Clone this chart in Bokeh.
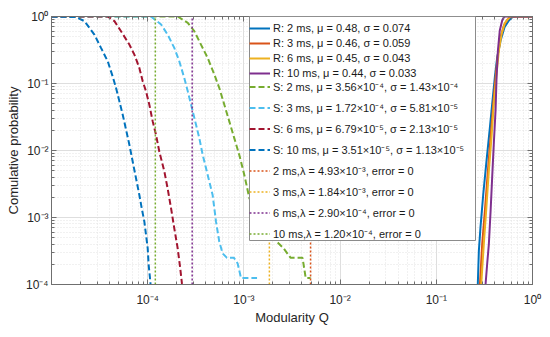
from bokeh.plotting import figure
from bokeh.models import (Range1d, FixedTicker, LogAxis, Legend, LegendItem, BoxAnnotation)
from bokeh.embed import file_html
from bokeh.resources import INLINE

# ---------------- data ----------------
# R: real networks, cumulative distribution of modularity
R2_q = [0.270, 0.277, 0.288, 0.308, 0.333, 0.361, 0.384, 0.406, 0.430, 0.466, 0.512, 0.568, 0.615, 0.665, 1.0]
R2_p = [1e-4, 3.2e-4, 7.2e-4, 2.26e-3, 7.1e-3, 0.0223, 0.0557, 0.124, 0.247, 0.438, 0.693, 0.871, 0.977, 1.0, 1.0]
R3_q = [0.284, 0.300, 0.320, 0.344, 0.367, 0.391, 0.413, 0.437, 0.466, 0.504, 0.546, 0.590, 1.0]
R3_p = [1e-4, 4.05e-4, 1.27e-3, 5.03e-3, 0.0158, 0.0498, 0.124, 0.277, 0.491, 0.734, 0.892, 1.0, 1.0]
R6_q = [0.293, 0.312, 0.330, 0.352, 0.375, 0.396, 0.420, 0.447, 0.477, 0.515, 0.568, 0.600, 1.0]
R6_p = [1e-4, 4.05e-4, 1.27e-3, 5.03e-3, 0.0158, 0.0498, 0.124, 0.311, 0.551, 0.794, 0.955, 1.0, 1.0]
R10_q = [0.325, 0.338, 0.352, 0.367, 0.381, 0.396, 0.413, 0.423, 0.437, 0.457, 0.484, 0.504, 0.520, 1.0]
R10_p = [1e-4, 2.04e-4, 4.05e-4, 1.27e-3, 4.0e-3, 0.0126, 0.0395, 0.124, 0.311, 0.618, 0.871, 0.977, 1.0, 1.0]

# S: surrogate networks, complementary cumulative distribution
S2_q = [1e-5, 2.05e-4, 2.61e-4, 3.05e-4, 3.58e-4, 4.20e-4, 4.93e-4, 5.55e-4, 6.26e-4, 7.05e-4, 7.94e-4,
        8.95e-4, 1.01e-3, 1.14e-3, 1.5e-3, 2.14e-3, 2.30e-3, 2.59e-3, 3.06e-3, 4.07e-3, 4.39e-3, 4.94e-3]
S2_p = [1, 1, 0.804, 0.603, 0.381, 0.241, 0.136, 0.0857, 0.0482, 0.0272, 0.0153,
        8.61e-3, 4.32e-3, 1.94e-3, 9e-4, 4.54e-4, 4.09e-4, 3.45e-4, 2.5e-4, 2.5e-4, 1.25e-4, 1.25e-4]
S3_q = [1e-5, 1.08e-4, 1.38e-4, 1.61e-4, 1.89e-4, 2.13e-4, 2.40e-4, 2.61e-4, 2.94e-4, 3.18e-4, 3.44e-4,
        3.73e-4, 4.04e-4, 4.37e-4, 4.73e-4, 5.13e-4, 5.55e-4, 6.01e-4, 6.67e-4, 7.88e-4, 8.61e-4, 9.33e-4, 1.37e-3]
S3_p = [1, 1, 0.759, 0.538, 0.340, 0.215, 0.121, 0.0763, 0.0384, 0.0242, 0.0153,
        8.61e-3, 5.44e-3, 3.44e-3, 2.17e-3, 8.67e-4, 4.35e-4, 2.91e-4, 2.5e-4, 2.5e-4, 2.06e-4, 1.25e-4, 1.25e-4]
S6_q = [1e-5, 3.84e-5, 4.51e-5, 5.28e-5, 6.45e-5, 7.27e-5, 8.19e-5, 8.87e-5, 9.61e-5, 1.04e-4, 1.127e-4,
        1.22e-4, 1.32e-4, 1.49e-4, 1.61e-4, 1.75e-4, 1.89e-4, 2.05e-4, 2.18e-4, 2.27e-4, 2.28e-4]
S6_p = [1, 1, 0.852, 0.603, 0.381, 0.270, 0.171, 0.108, 0.0763, 0.0482, 0.0272,
        0.0172, 9.66e-3, 4.85e-3, 2.73e-3, 1.37e-3, 6.89e-4, 3.46e-4, 1.73e-4, 1.03e-4, 1e-4]
S10_q = [1e-5, 1.8e-5, 2.2e-5, 2.79e-5, 3.27e-5, 3.84e-5, 4.32e-5, 4.69e-5, 5.08e-5, 5.50e-5, 5.96e-5,
         6.45e-5, 6.98e-5, 7.56e-5, 8.19e-5, 8.67e-5, 9.23e-5, 9.61e-5, 1.0e-4, 1.024e-4, 1.066e-4, 1.07e-4]
S10_p = [1, 0.98, 0.852, 0.538, 0.340, 0.215, 0.128, 0.0857, 0.0541, 0.0342, 0.0204,
         0.0122, 6.85e-3, 3.85e-3, 2.17e-3, 1.37e-3, 8.67e-4, 5.47e-4, 3.46e-4, 1.95e-4, 1.1e-4, 1e-4]

# thresholds lambda (vertical lines)
lam_values = [4.93e-3, 1.84e-3, 2.90e-4, 1.20e-4]
lam_span = [1e-4, 1.0]

r_labels = ["R: 2 ms, \u03bc = 0.48, \u03c3 = 0.074",
            "R: 3 ms, \u03bc = 0.46, \u03c3 = 0.059",
            "R: 6 ms, \u03bc = 0.45, \u03c3 = 0.043",
            "R: 10 ms, \u03bc = 0.44, \u03c3 = 0.033"]
s_labels = ["S: 2 ms, \u03bc = 3.56\u00d710\u207b\u2074, \u03c3 = 1.43\u00d710\u207b\u2074",
            "S: 3 ms, \u03bc = 1.72\u00d710\u207b\u2074, \u03c3 = 5.81\u00d710\u207b\u2075",
            "S: 6 ms, \u03bc = 6.79\u00d710\u207b\u2075, \u03c3 = 2.13\u00d710\u207b\u2075",
            "S: 10 ms, \u03bc = 3.51\u00d710\u207b\u2075, \u03c3 = 1.13\u00d710\u207b\u2075"]
l_labels = ["2 ms,\u03bb = 4.93\u00d710\u207b\u00b3, error = 0",
            "3 ms,\u03bb = 1.84\u00d710\u207b\u00b3, error = 0",
            "6 ms,\u03bb = 2.90\u00d710\u207b\u2074, error = 0",
            "10 ms,\u03bb = 1.20\u00d710\u207b\u2074, error = 0"]

x_major = [1e-4, 1e-3, 1e-2, 1e-1, 1.0]
y_major = [1e-4, 1e-3, 1e-2, 1e-1, 1.0]
x_tick_labels = ["10\u207b\u2074", "10\u207b\u00b3", "10\u207b\u00b2", "10\u207b\u00b9", "10\u2070"]
y_tick_labels = ["10\u207b\u2074", "10\u207b\u00b3", "10\u207b\u00b2", "10\u207b\u00b9", "10\u2070"]

# ---------------- styling ----------------
C_BLUE, C_ORANGE, C_YELLOW, C_PURPLE = "#0072BD", "#D95319", "#EDB120", "#7E2F8E"
C_GREEN, C_CYAN, C_RED = "#77AC30", "#4DBEEE", "#A2142F"
FONT = "Liberation Sans"
AX = "#6f6f6f"

x_minor = [m * 10.0 ** k for k in range(-5, 0) for m in range(2, 10)]
y_minor = [m * 10.0 ** k for k in range(-4, 0) for m in range(2, 10)]

FW, FH = 481, 268
p = figure(frame_width=FW, frame_height=FH, x_axis_type="log", y_axis_type="log",
           x_range=Range1d(1e-5, 1.0), y_range=Range1d(1e-4, 1.0),
           output_backend="svg", toolbar_location=None,
           min_border_left=51, min_border_right=10, min_border_top=16, min_border_bottom=45)
p.background_fill_color = "white"
p.border_fill_color = "white"
p.outline_line_color = AX
p.outline_line_width = 1

xt = FixedTicker(ticks=x_major, minor_ticks=x_minor)
yt = FixedTicker(ticks=y_major, minor_ticks=y_minor)

for ax, t, vals, labs in ((p.xaxis[0], xt, x_major, x_tick_labels), (p.yaxis[0], yt, y_major, y_tick_labels)):
    ax.ticker = t
    ax.major_label_overrides = {v: s for v, s in zip(vals, labs)}
    ax.major_tick_in = 5
    ax.major_tick_out = 0
    ax.minor_tick_in = 3
    ax.minor_tick_out = 0
    ax.axis_line_color = AX
    ax.major_tick_line_color = AX
    ax.minor_tick_line_color = AX
    ax.major_label_text_font = FONT
    ax.major_label_text_font_size = "12px"
    ax.major_label_text_color = "#262626"
    ax.axis_label_text_font = FONT
    ax.axis_label_text_font_size = "13px"
    ax.axis_label_text_font_style = "normal"
    ax.axis_label_text_color = "#262626"

p.xaxis[0].axis_label = "Modularity Q"
p.yaxis[0].axis_label = "Comulative probability"
p.xaxis[0].major_label_standoff = 8
p.xaxis[0].axis_label_standoff = 0
p.yaxis[0].major_label_standoff = 3
p.yaxis[0].axis_label_standoff = 2

for place, t in (("above", xt), ("right", yt)):
    a = LogAxis(ticker=t, major_label_text_font_size="1px", major_label_text_alpha=0.0,
                major_label_standoff=0,
                major_tick_in=5, major_tick_out=0, minor_tick_in=3, minor_tick_out=0,
                axis_line_color=AX, major_tick_line_color=AX, minor_tick_line_color=AX)
    p.add_layout(a, place)

for g, t in ((p.xgrid[0], xt), (p.ygrid[0], yt)):
    g.ticker = t
    g.grid_line_color = "#dedede"
    g.grid_line_width = 1
    g.minor_grid_line_color = "#e2e2e2"
    g.minor_grid_line_dash = "1 2"

# ---------------- glyphs ----------------
r_items, s_items = [], []
for q, pr, c, lab in ((R2_q, R2_p, C_BLUE, r_labels[0]), (R3_q, R3_p, C_ORANGE, r_labels[1]),
                      (R6_q, R6_p, C_YELLOW, r_labels[2]), (R10_q, R10_p, C_PURPLE, r_labels[3])):
    r = p.line(q, pr, line_color=c, line_width=2)
    r_items.append(LegendItem(label=lab, renderers=[r]))

for q, pr, c, lab in ((S2_q, S2_p, C_GREEN, s_labels[0]), (S3_q, S3_p, C_CYAN, s_labels[1]),
                      (S6_q, S6_p, C_RED, s_labels[2]), (S10_q, S10_p, C_BLUE, s_labels[3])):
    r = p.line(q, pr, line_color=c, line_width=2, line_dash="6 3")
    s_items.append(LegendItem(label=lab, renderers=[r]))

for lam, c, lab in zip(lam_values, (C_ORANGE, C_YELLOW, C_PURPLE, C_GREEN), l_labels):
    r = p.line([lam, lam], lam_span, line_color=c, line_width=1.5, line_dash="2 2")
    s_items.append(LegendItem(label=lab, renderers=[r]))

# legend frame (screen units, relative to the plot frame)
LX, LW, LTOP, LH = 198, 226, FH, 224
box = BoxAnnotation(left=LX, right=LX + LW, top=LTOP, bottom=LTOP - LH,
                    left_units="screen", right_units="screen", top_units="screen", bottom_units="screen",
                    fill_color="white", fill_alpha=1.0, line_color="#8c8c8c", line_width=1, line_alpha=1.0)
p.add_layout(box)

common = dict(padding=3, glyph_width=21, label_standoff=3, label_text_font=FONT,
              label_text_font_size="11px", label_text_color="#1a1a1a",
              border_line_color=None, background_fill_alpha=0.0, margin=0)
leg_r = Legend(items=r_items, location=(LX, FH - (6 + 4 * 12 + 3 * 3)),
               label_height=12, glyph_height=12, spacing=3, **common)
leg_s = Legend(items=s_items, location=(LX, FH - 56 - (6 + 8 * 17 + 7 * 4)),
               label_height=17, glyph_height=17, spacing=4, **common)
p.add_layout(leg_r)
p.add_layout(leg_s)

open("out.html", "w").write(file_html(p, INLINE))
